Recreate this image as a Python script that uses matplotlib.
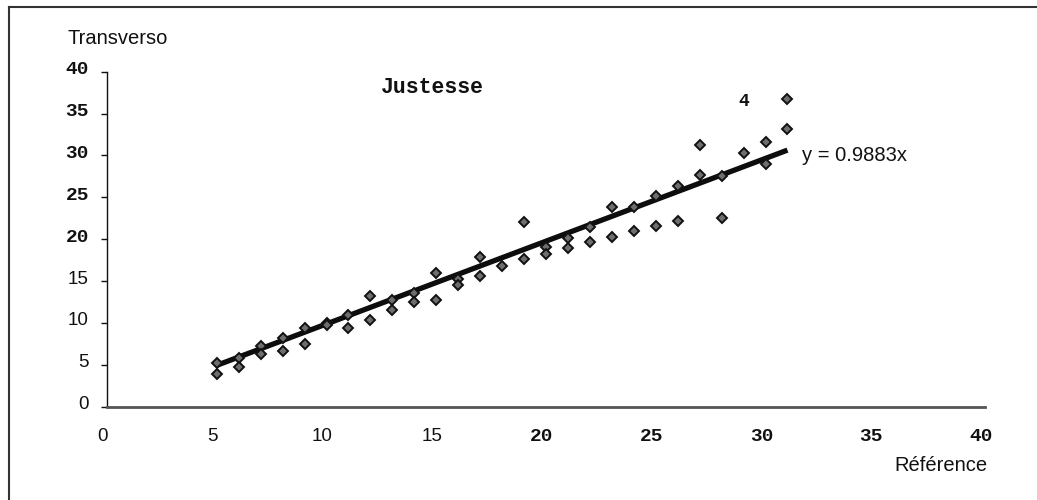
import matplotlib
matplotlib.use("Agg")
import matplotlib.pyplot as plt
import matplotlib.transforms as mtransforms
from matplotlib.lines import Line2D

# ---- data ----
ref_x = [5, 5, 6, 6, 7, 7, 8, 8, 9, 9, 10, 10, 11, 11, 12, 12, 13, 13, 14, 14,
         15, 15, 16, 16, 17, 17, 18, 19, 19, 20, 20, 21, 21, 22, 22, 23, 23,
         24, 24, 25, 25, 26, 26, 27, 27, 28, 28, 29, 30, 30, 31, 31]
trans_y = [5.2, 3.9, 5.8, 4.8, 7.25, 6.25, 8.2, 6.6, 9.4, 7.5, 10.0, 9.8, 10.95, 9.4,
           13.2, 10.4, 12.8, 11.5, 13.6, 12.5, 16.0, 12.8, 15.3, 14.5, 17.9, 15.6,
           16.8, 22.0, 17.6, 19.1, 18.2, 20.2, 19.0, 21.4, 19.7, 23.8, 20.3,
           23.9, 21.0, 25.1, 21.6, 26.4, 22.2, 27.7, 31.2, 27.5, 22.5, 30.3,
           31.6, 29.0, 36.8, 33.1]
odd_x = [29]
odd_y = [36.5]
odd_label = ["4"]
slope = 0.9883
equation = "y = 0.9883x"
title = "Justesse"
x_label = "Référence"
y_label = "Transverso"
ticks = [0, 5, 10, 15, 20, 25, 30, 35, 40]
tick_labels = ["0", "5", "10", "15", "20", "25", "30", "35", "40"]

W, H = 1037, 500
fig = plt.figure(figsize=(W / 100, H / 100), dpi=100)
fig.patch.set_facecolor("white")

# axes placement
x0, x1 = 107, 985
y0, y1 = 406.7, 71.7
ax = fig.add_axes([x0 / W, 1 - y0 / H, (x1 - x0) / W, (y0 - y1) / H])
ax.set_xlim(0, 40)
ax.set_ylim(0, 40)
ax.set_facecolor("white")

for s in ["top", "right"]:
    ax.spines[s].set_visible(False)
ax.spines["left"].set_linewidth(1.0)
ax.spines["left"].set_color("#111111")
ax.spines["bottom"].set_linewidth(2.0)
ax.spines["bottom"].set_color("#555555")

ax.set_xticks(ticks)
ax.set_xticklabels(tick_labels)
ax.set_yticks(ticks)
ax.set_yticklabels(tick_labels)
ax.tick_params(axis="x", length=0, pad=15)
ax.tick_params(axis="y", length=4, width=1, color="#111111", pad=9)

sans = "Liberation Sans"
mono = "Liberation Mono"
xoff = mtransforms.ScaledTranslation(-4 / 100, 0, fig.dpi_scale_trans)
for lab in ax.get_xticklabels():
    if lab.get_text() in ("0", "5", "10", "15"):
        lab.set_fontfamily(sans)
        lab.set_fontsize(13.5)
    else:
        lab.set_fontfamily(mono)
        lab.set_fontweight("bold")
        lab.set_fontsize(14)
    lab.set_color("#111111")
    lab.set_transform(lab.get_transform() + xoff)

offset = mtransforms.ScaledTranslation(0, 4 / 100, fig.dpi_scale_trans)
for lab in ax.get_yticklabels():
    if lab.get_text() in ("0", "5", "10", "15"):
        lab.set_fontfamily(sans)
        lab.set_fontsize(13.5)
    else:
        lab.set_fontfamily(mono)
        lab.set_fontweight("bold")
        lab.set_fontsize(14)
    lab.set_color("#111111")
    lab.set_transform(lab.get_transform() + offset)

# trend line
lx = [min(ref_x), max(ref_x)]
ly = [slope * v for v in lx]
ax.plot(lx, ly, color="#0d0d0d", lw=3.8, solid_capstyle="butt", zorder=3)

# points
ax.plot(ref_x, trans_y, linestyle="none", marker="D", ms=5.5,
        mfc="#6e6e6e", mec="#111111", mew=1.4, zorder=4)
for xv, yv, t in zip(odd_x, odd_y, odd_label):
    ax.text(xv, yv, t, ha="center", va="center", fontfamily=mono,
            fontweight="bold", fontsize=13, color="#111111")

# equation
ax.text(31.65, 29.3, equation, ha="left", va="baseline", fontfamily=sans,
        fontsize=14.5, color="#111111")

# titles / labels
fig.text(432 / W, 1 - 93.3 / H, title, ha="center", va="baseline",
         fontfamily=mono, fontweight="bold", fontsize=15.5, color="#111111")
fig.text(67 / W, 1 - 44 / H, y_label, ha="left", va="baseline",
         fontfamily=sans, fontsize=14.5, color="#111111")
fig.text(988 / W, 1 - 471 / H, x_label, ha="right", va="baseline",
         fontfamily=sans, fontsize=14.5, color="#111111")

# outer frame (top and left)
fy = 1 - 7.3 / H
fx = 9.3 / W
fig.add_artist(Line2D([fx, 1], [fy, fy], transform=fig.transFigure,
                      color="#333333", lw=1.5))
fig.add_artist(Line2D([fx, fx], [0, fy], transform=fig.transFigure,
                      color="#333333", lw=1.5))

fig.savefig("out.png", dpi=100, facecolor="white")
